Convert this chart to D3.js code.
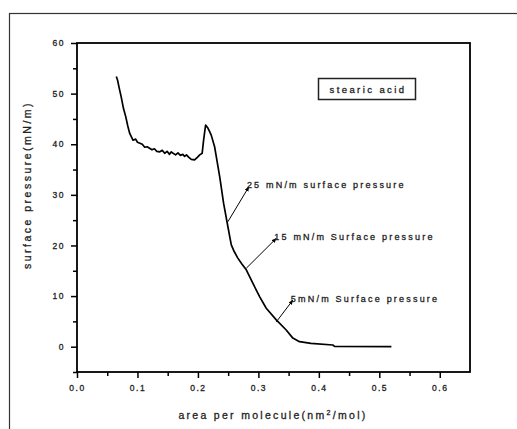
<!DOCTYPE html>
<html>
<head>
<meta charset="utf-8">
<script src="https://cdn.jsdelivr.net/npm/d3@7"></script>
<style>
  body { margin: 0; background: #fff; }
  svg { display: block; font-family: "Liberation Sans", Arial, sans-serif; }
  .txt { fill: #222; stroke: #222; stroke-width: 0.3px; }
</style>
</head>
<body>
<svg id="chart" width="517" height="429"></svg>
<script>
// isotherm: area (nm^2/mol) vs surface pressure (mN/m)
var areas = [0.065, 0.067, 0.070, 0.073, 0.077, 0.0805, 0.084, 0.087, 0.0926, 0.097, 0.100, 0.104, 0.108, 0.112, 0.116,
             0.120, 0.124, 0.128, 0.132, 0.137, 0.141, 0.145, 0.149, 0.153, 0.156, 0.159, 0.163, 0.167, 0.171,
             0.175, 0.178, 0.181, 0.185, 0.189, 0.1945, 0.199, 0.203, 0.207, 0.2094, 0.2127, 0.2165, 0.219,
             0.222, 0.2276, 0.232, 0.236, 0.2425, 0.2496, 0.2530, 0.2552, 0.260, 0.266, 0.273, 0.280, 0.291, 0.302,
             0.313, 0.3296, 0.346, 0.357, 0.368, 0.387, 0.423, 0.426, 0.520];
var pressures = [53.4, 52.7, 51.0, 49.4, 47.0, 45.5, 43.6, 42.2, 40.8, 41.0, 40.4, 40.2, 40.0, 39.4, 39.5,
                 39.2, 38.9, 39.1, 38.6, 38.5, 38.8, 38.2, 38.6, 38.0, 38.5, 38.2, 37.9, 38.3, 37.8,
                 38.0, 37.6, 37.9, 37.4, 37.0, 36.9, 37.4, 37.9, 38.2, 40.8, 43.8, 43.2, 42.6,
                 41.8, 39.5, 36.4, 33.6, 28.3, 23.7, 21.5, 20.1, 18.8, 17.5, 16.3, 15.2, 12.5, 9.9,
                 7.6, 5.3, 3.3, 1.7, 1.0, 0.66, 0.33, 0.05, 0.0];

var xTicks = [0.0, 0.1, 0.2, 0.3, 0.4, 0.5, 0.6];
var yTicks = [0, 10, 20, 30, 40, 50, 60];

var legendLabel = "stearic acid";
var xTitle = "area per molecule(nm";
var yTitle = "surface pressure(mN/m)";

// annotation arrows: tail on the curve, head at label start (data units)
var noteText = ["25 mN/m surface pressure", "15 mN/m Surface pressure", "5mN/m Surface pressure"];
var noteTail = [[0.2496, 24.7], [0.280, 15.5], [0.3296, 4.9]];
var noteHead = [[0.2843, 31.6], [0.3296, 21.4], [0.357, 9.2]];

function drawChart() {
    var svg = d3.select("#chart");
    var pLeft = 77, pRight = 470, pTop = 43, pBottom = 372;

    var x = d3.scaleLinear().domain([0, 0.65]).range([pLeft, pRight]);
    var y = d3.scaleLinear().domain([-5, 60]).range([pBottom, pTop]);

    // outer frame of the figure
    svg.append("rect")
        .attr("x", 9.5).attr("y", 13.5)
        .attr("width", 540).attr("height", 440)
        .attr("fill", "none").attr("stroke", "#333").attr("stroke-width", 1.2);

    svg.append("defs").append("marker")
        .attr("id", "arr").attr("viewBox", "0 0 10 10")
        .attr("refX", 9).attr("refY", 5)
        .attr("markerWidth", 5).attr("markerHeight", 5)
        .attr("orient", "auto")
      .append("path").attr("d", "M0,1 L10,5 L0,9 Z").attr("fill", "#000");

    // minor ticks
    svg.append("g")
        .attr("transform", "translate(0," + pBottom + ")")
        .call(d3.axisBottom(x).tickValues(d3.range(0.05, 0.65, 0.1)).tickSize(4).tickFormat(""))
        .call(function(g) { g.select(".domain").remove(); });
    svg.append("g")
        .attr("transform", "translate(" + pLeft + ",0)")
        .call(d3.axisLeft(y).tickValues(d3.range(-5, 60, 10)).tickSize(4).tickFormat(""))
        .call(function(g) { g.select(".domain").remove(); });

    var xAxis = svg.append("g")
        .attr("transform", "translate(0," + pBottom + ")")
        .call(d3.axisBottom(x).tickValues(xTicks).tickSize(6).tickPadding(7).tickFormat(d3.format(".1f")));
    var yAxis = svg.append("g")
        .attr("transform", "translate(" + pLeft + ",0)")
        .call(d3.axisLeft(y).tickValues(yTicks).tickSize(6).tickPadding(6).tickFormat(d3.format("d")));

    [xAxis, yAxis].forEach(function(g) {
        g.select(".domain").remove();
        g.selectAll("text").attr("font-size", 8.5).attr("class", "txt")
            .attr("font-family", "'Liberation Sans', Arial, sans-serif")
            .style("letter-spacing", "1.5px");
    });
    svg.selectAll(".tick line").attr("stroke", "#000").attr("stroke-width", 1.5);

    // plot frame
    svg.append("rect")
        .attr("x", pLeft).attr("y", pTop)
        .attr("width", pRight - pLeft).attr("height", pBottom - pTop)
        .attr("fill", "none").attr("stroke", "#000").attr("stroke-width", 1.8);

    // curve
    var pts = areas.map(function(a, i) { return [a, pressures[i]]; });
    svg.append("path")
        .datum(pts)
        .attr("fill", "none").attr("stroke", "#000").attr("stroke-width", 1.7)
        .attr("stroke-linejoin", "round")
        .attr("d", d3.line().x(function(d) { return x(d[0]); }).y(function(d) { return y(d[1]); }));

    // annotations
    noteText.forEach(function(t, i) {
        svg.append("line")
            .attr("x1", x(noteTail[i][0])).attr("y1", y(noteTail[i][1]))
            .attr("x2", x(noteHead[i][0])).attr("y2", y(noteHead[i][1]))
            .attr("stroke", "#000").attr("stroke-width", 1)
            .attr("marker-end", "url(#arr)");
        svg.append("text")
            .attr("class", "txt")
            .attr("x", x(noteHead[i][0]) - 2).attr("y", y(noteHead[i][1]) + 1.5)
            .attr("font-size", 9)
            .style("letter-spacing", "2.2px")
            .text(t);
    });

    // legend box
    svg.append("rect")
        .attr("x", 318.5).attr("y", 78.5).attr("width", 97).attr("height", 21)
        .attr("fill", "#fff").attr("stroke", "#222").attr("stroke-width", 1.5);
    svg.append("text")
        .attr("class", "txt")
        .attr("x", 368).attr("y", 92.5).attr("text-anchor", "middle")
        .attr("font-size", 9.5)
        .style("letter-spacing", "2.4px")
        .text(legendLabel);

    // axis titles
    var xt = svg.append("text")
        .attr("class", "txt")
        .attr("x", 273).attr("y", 419).attr("text-anchor", "middle")
        .attr("font-size", 10.5)
        .style("letter-spacing", "2.3px");
    xt.append("tspan").text(xTitle);
    xt.append("tspan").attr("font-size", 7).attr("dy", -4).text("2");
    xt.append("tspan").attr("dy", 4).text("/mol)");

    svg.append("text")
        .attr("class", "txt")
        .attr("transform", "translate(31,185) rotate(-90)")
        .attr("text-anchor", "middle")
        .attr("font-size", 10.5)
        .style("letter-spacing", "2.5px")
        .text(yTitle);
}

drawChart();
</script>
</body>
</html>
